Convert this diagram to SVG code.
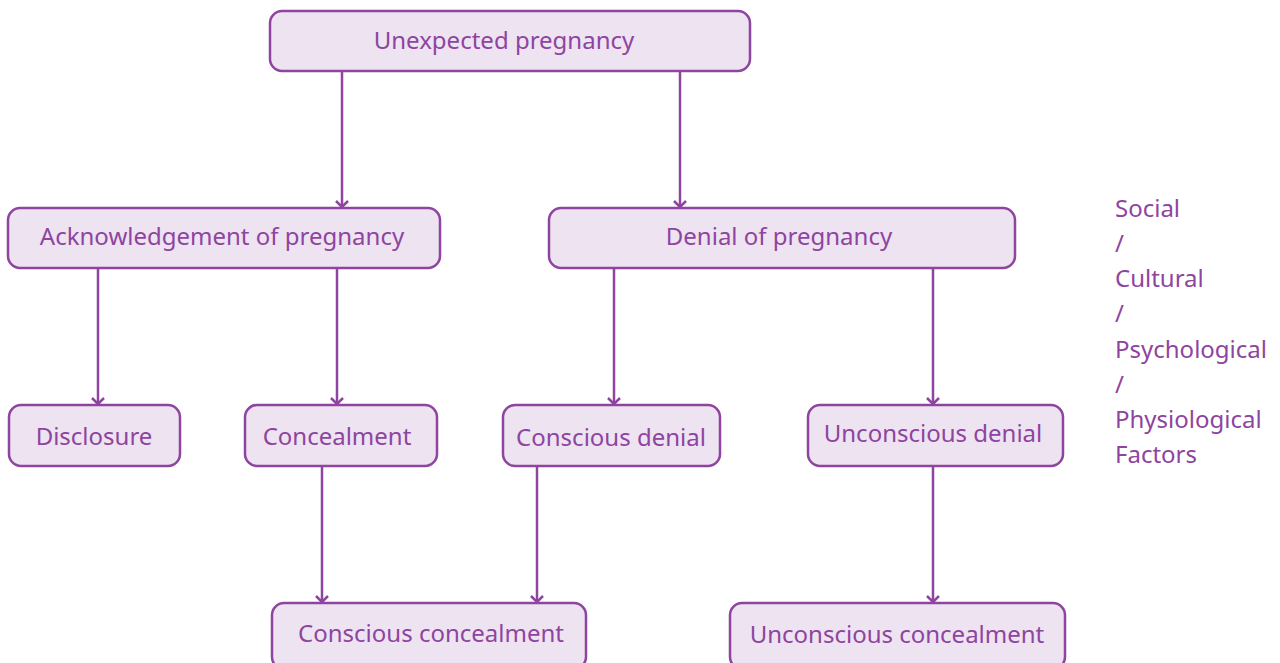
<svg xmlns="http://www.w3.org/2000/svg" width="1280" height="663" viewBox="0 0 1280 663">
<style>
.box{fill:#ede3f1;stroke:#8e44a0;stroke-width:2.5}
.t{font-family:"Noto Sans","Open Sans",sans-serif;font-size:24px;fill:#8e44a0;text-anchor:middle}
.s{font-family:"Noto Sans","Open Sans",sans-serif;font-size:24px;fill:#8e44a0}
.c{stroke:#8e44a0;stroke-width:2.5;fill:none;marker-end:url(#ah)}
</style>
<defs>
<marker id="ah" markerUnits="userSpaceOnUse" markerWidth="12" markerHeight="16" refX="10" refY="8" orient="auto" viewBox="0 0 12 16">
<path d="M4,2 L10,8 L4,14" fill="none" stroke="#8e44a0" stroke-width="2.5"/>
</marker>
</defs>
<rect width="1280" height="663" fill="#ffffff"/>
<g id="connectors">
<line class="c" x1="342" y1="71" x2="342" y2="207"/>
<line class="c" x1="680" y1="71" x2="680" y2="207"/>
<line class="c" x1="98" y1="268" x2="98" y2="404"/>
<line class="c" x1="337" y1="268" x2="337" y2="404"/>
<line class="c" x1="614" y1="268" x2="614" y2="404"/>
<line class="c" x1="933" y1="268" x2="933" y2="404"/>
<line class="c" x1="322" y1="466" x2="322" y2="602"/>
<line class="c" x1="537" y1="466" x2="537" y2="602"/>
<line class="c" x1="933" y1="466" x2="933" y2="602"/>
</g>
<g id="n-unexpected"><rect class="box" x="270" y="11" width="480" height="60" rx="12"/><text class="t" x="504" y="49">Unexpected pregnancy</text></g>
<g id="n-ack"><rect class="box" x="8" y="208" width="432" height="60" rx="12"/><text class="t" x="222" y="245">Acknowledgement of pregnancy</text></g>
<g id="n-denial"><rect class="box" x="549" y="208" width="466" height="60" rx="12"/><text class="t" x="779" y="245">Denial of pregnancy</text></g>
<g id="n-disclosure"><rect class="box" x="9" y="405" width="171" height="61" rx="12"/><text class="t" x="94" y="445">Disclosure</text></g>
<g id="n-concealment"><rect class="box" x="245" y="405" width="192" height="61" rx="12"/><text class="t" x="337" y="445">Concealment</text></g>
<g id="n-conscious-denial"><rect class="box" x="503" y="405" width="217" height="61" rx="12"/><text class="t" x="611" y="446">Conscious denial</text></g>
<g id="n-unconscious-denial"><rect class="box" x="808" y="405" width="255" height="61" rx="12"/><text class="t" x="933" y="442">Unconscious denial</text></g>
<g id="n-conscious-concealment"><rect class="box" x="272" y="603" width="314" height="66" rx="12"/><text class="t" x="431" y="642">Conscious concealment</text></g>
<g id="n-unconscious-concealment"><rect class="box" x="730" y="603" width="335" height="66" rx="12"/><text class="t" x="897" y="643">Unconscious concealment</text></g>
<g id="factors">
<text class="s" x="1115" y="217">Social</text>
<text class="s" x="1115" y="252">/</text>
<text class="s" x="1115" y="287">Cultural</text>
<text class="s" x="1115" y="322">/</text>
<text class="s" x="1115" y="358">Psychological</text>
<text class="s" x="1115" y="393">/</text>
<text class="s" x="1115" y="428">Physiological</text>
<text class="s" x="1115" y="463">Factors</text>
</g>
</svg>
